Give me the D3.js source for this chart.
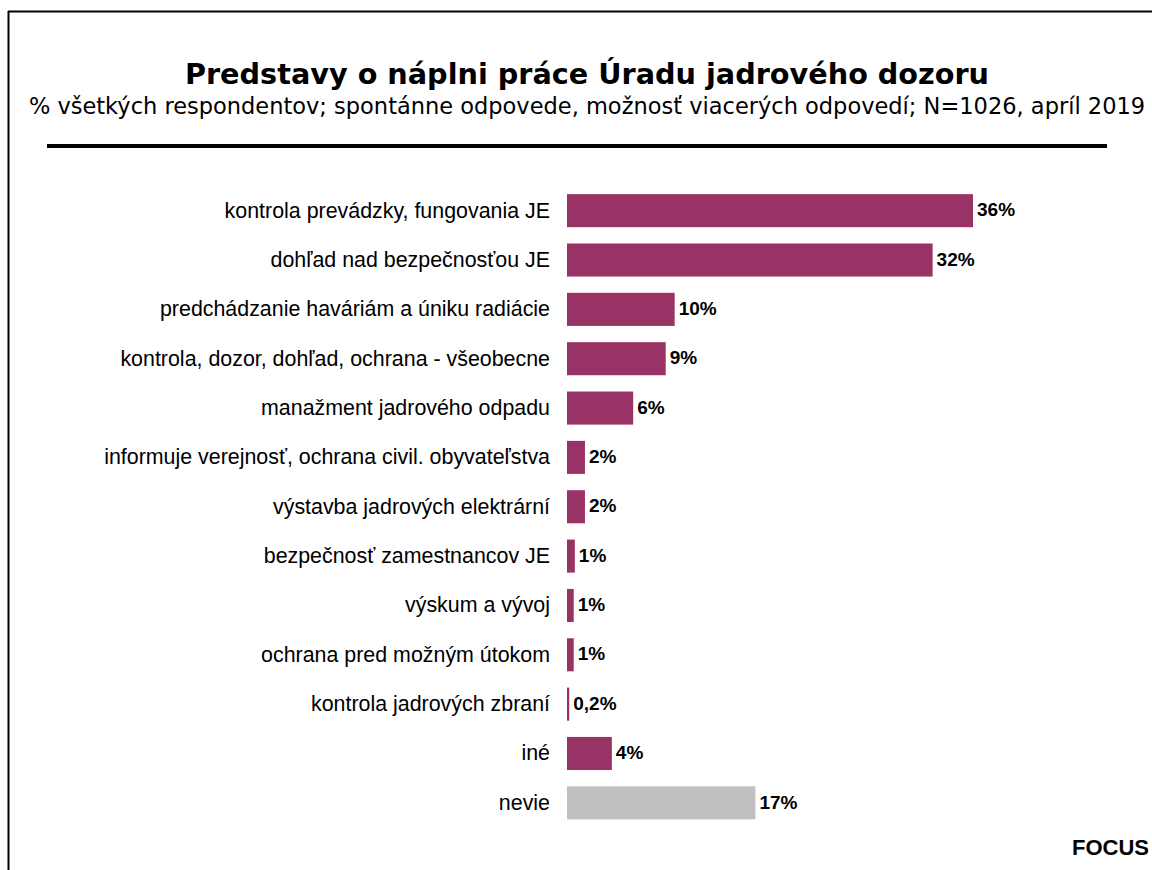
<!DOCTYPE html>
<html lang="sk">
<head>
  <meta charset="UTF-8" />
  <title>Predstavy o náplni práce Úradu jadrového dozoru</title>
  <style>
    body { margin: 0; background: #fff; }
    svg { display: block; }
    .title { font-family: "DejaVu Sans", Verdana, sans-serif; font-weight: bold; font-size: 28.7px; }
    .subtitle { font-family: "DejaVu Sans", Verdana, sans-serif; font-size: 22.5px; }
    .cat { font-family: "Liberation Sans", Arial, sans-serif; font-size: 21.4px; fill: #000; }
    .val { font-family: "Liberation Sans", Arial, sans-serif; font-size: 19px; font-weight: bold; fill: #000; }
    .src { font-family: "Liberation Sans", Arial, sans-serif; font-size: 22px; font-weight: bold; }
  </style>
</head>
<body>
  <div id="chart"></div>

  <script src="https://d3js.org/d3.v7.min.js"></script>
  <script>
    // Data
    const categories = [
      "kontrola prevádzky, fungovania JE",
      "dohľad nad bezpečnosťou JE",
      "predchádzanie haváriám a úniku radiácie",
      "kontrola, dozor, dohľad, ochrana - všeobecne",
      "manažment jadrového odpadu",
      "informuje verejnosť, ochrana civil. obyvateľstva",
      "výstavba jadrových elektrární",
      "bezpečnosť zamestnancov JE",
      "výskum a vývoj",
      "ochrana pred možným útokom",
      "kontrola jadrových zbraní",
      "iné",
      "nevie"
    ];
    const values = [36.2, 32.6, 9.6, 8.8, 5.9, 1.6, 1.6, 0.7, 0.6, 0.6, 0.2, 4.0, 16.8];
    const valueLabels = ["36%", "32%", "10%", "9%", "6%", "2%", "2%", "1%", "1%", "1%", "0,2%", "4%", "17%"];
    const grey = ["nevie"];

    const W = 1152, H = 870;
    const svg = d3.select("#chart").append("svg")
      .attr("width", W)
      .attr("height", H);

    // frame (top and left edges only visible)
    svg.append("line").attr("x1", 8).attr("x2", W).attr("y1", 11.5).attr("y2", 11.5)
      .attr("stroke", "#000").attr("stroke-width", 2);
    svg.append("line").attr("x1", 8.5).attr("x2", 8.5).attr("y1", 11).attr("y2", H)
      .attr("stroke", "#000").attr("stroke-width", 2);

    // titles
    svg.append("text").attr("class", "title")
      .attr("x", 587).attr("y", 84).attr("text-anchor", "middle")
      .text("Predstavy o náplni práce Úradu jadrového dozoru");
    svg.append("text").attr("class", "subtitle")
      .attr("x", 587).attr("y", 114).attr("text-anchor", "middle")
      .text("% všetkých respondentov; spontánne odpovede, možnosť viacerých odpovedí; N=1026, apríl 2019");

    svg.append("line").attr("x1", 47).attr("x2", 1107).attr("y1", 146).attr("y2", 146)
      .attr("stroke", "#000").attr("stroke-width", 4);

    // scales
    const x0 = 567;
    const x = d3.scaleLinear().domain([0, 36.2]).range([x0, 973]);
    const y = d3.scaleBand()
      .domain(categories)
      .range([186, 827.5])
      .paddingInner(0.33)
      .paddingOuter(0.165);

    const g = svg.append("g");

    // category axis (labels only)
    const yAxis = g.append("g")
      .attr("transform", `translate(${x0 - 17},0)`)
      .call(d3.axisLeft(y).tickSize(0).tickPadding(0));
    yAxis.select(".domain").remove();
    yAxis.selectAll("text").attr("class", "cat").attr("font-family", null).attr("font-size", null);
    yAxis.attr("font-size", null).attr("font-family", null);

    const rows = categories.map((c, i) => ({ c, v: values[i], label: valueLabels[i] }));

    g.selectAll("rect.bar")
      .data(rows)
      .enter().append("rect")
      .attr("class", "bar")
      .attr("x", x0)
      .attr("y", d => y(d.c))
      .attr("width", d => Math.max(x(d.v) - x0, 2))
      .attr("height", y.bandwidth())
      .attr("fill", d => grey.includes(d.c) ? "#c0c0c0" : "#993366");

    g.selectAll("text.val")
      .data(rows)
      .enter().append("text")
      .attr("class", "val")
      .attr("x", d => Math.max(x(d.v), x0 + 2) + 4)
      .attr("y", d => y(d.c) + y.bandwidth() / 2)
      .attr("dy", "0.3em")
      .text(d => d.label);

    svg.append("text").attr("class", "src")
      .attr("x", 1149).attr("y", 855).attr("text-anchor", "end")
      .text("FOCUS");
  </script>
</body>
</html>
